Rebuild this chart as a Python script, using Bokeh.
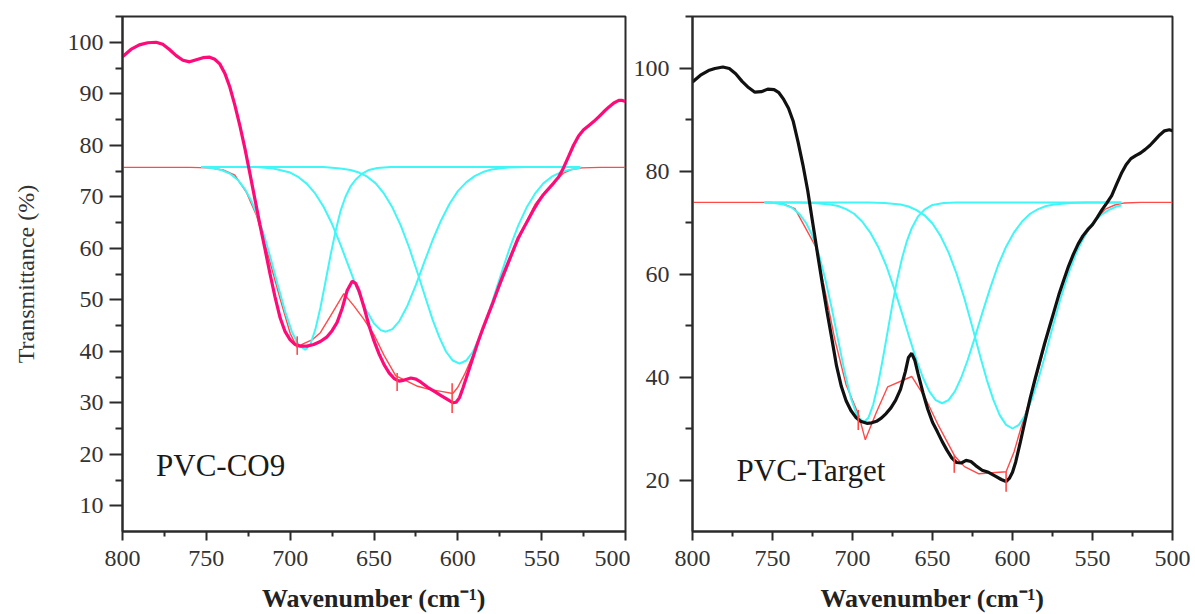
from bokeh.plotting import figure
from bokeh.models import Range1d, Label, FixedTicker
from bokeh.layouts import row
from bokeh.embed import file_html
from bokeh.resources import INLINE

# ---------------- data : PVC-CO9 (left panel) ----------------
co9_x = [800, 795, 790, 785, 780, 776, 772, 768, 764, 760, 756, 752, 748, 745, 742, 739, 736, 733,
         730, 727, 724, 721, 718, 715, 712, 709, 706, 703, 700, 697, 694, 690, 686, 682, 678, 675,
         672, 669, 666, 663, 661, 659, 656, 653, 650, 647, 644, 641, 638, 635, 632, 628, 625, 622,
         618, 614, 610, 606, 603, 601, 599, 597, 594, 591, 588, 585, 582, 579, 576, 573, 570, 567,
         564, 561, 558, 555, 552, 549, 546, 543, 540, 537, 534, 531, 528, 525, 522, 519, 516, 513,
         510, 507, 504, 502, 500]
co9_y = [97.2, 98.6, 99.5, 99.9, 100.0, 99.6, 98.6, 97.4, 96.5, 96.2, 96.6, 97.0, 97.1, 96.7, 95.8,
         94.0, 91.3, 87.8, 83.8, 79.4, 74.5, 69.5, 64.5, 59.8, 55.0, 50.5, 46.5, 43.8, 42.2, 41.3,
         41.0, 41.0, 41.3, 41.9, 42.8, 44.0, 45.6, 48.3, 51.8, 53.6, 53.2, 51.8, 48.6, 45.0, 42.0,
         39.5, 37.4, 35.8, 34.7, 34.2, 34.4, 34.8, 34.6, 34.0, 33.0, 32.2, 31.4, 30.6, 30.0, 30.1,
         31.0, 32.8, 35.8, 38.8, 41.8, 44.5, 47.0, 49.5, 52.2, 54.8, 57.2, 59.6, 62.0, 63.8, 65.6,
         67.4, 69.0, 70.4, 71.5, 72.6, 73.8, 75.6, 77.8, 80.0, 81.8, 83.0, 83.8, 84.6, 85.5, 86.5,
         87.4, 88.2, 88.7, 88.7, 88.5]

co9_fit_x = [800, 760, 748, 740, 733, 726, 720, 713, 706, 700, 696, 692, 687, 682, 676, 668, 662,
             656, 650, 644, 637, 631, 624, 617, 610, 603, 600, 596, 592, 588, 584, 578, 572, 566,
             560, 554, 548, 542, 537, 532, 526, 515, 500]
co9_fit_y = [75.7, 75.7, 75.6, 75.2, 74.2, 70.8, 66.3, 58.5, 50.2, 43.5, 40.8, 41.5, 42.2, 43.6,
             46.8, 51.2, 48.8, 46.2, 43.2, 39.2, 35.2, 34.3, 33.2, 32.6, 32.2, 31.8, 33.0, 35.5,
             38.5, 41.5, 45.0, 50.2, 55.0, 60.0, 64.5, 68.5, 71.0, 73.0, 74.6, 75.3, 75.6, 75.7, 75.7]

co9_p1_x = [753, 746, 741, 736, 731, 727, 723, 719, 715, 711, 707, 703, 699, 695, 691, 688, 685,
            682, 679, 676, 673, 670, 667, 664, 661, 657, 653, 648, 640, 527]
co9_p1_y = [75.8, 75.55, 75.2, 74.5, 73.2, 71.5, 69.1, 65.9, 61.9, 57.3, 52.4, 47.7, 43.8, 41.2,
            40.3, 41.3, 44.2, 48.4, 53.4, 58.5, 63.2, 67.2, 70.0, 72.0, 73.3, 74.5, 75.2, 75.6,
            75.8, 75.8]

co9_p2_x = [753, 720, 710, 700, 695, 690, 685, 680, 675, 670, 665, 660, 655, 650, 646, 643, 639,
            635, 630, 625, 620, 615, 610, 605, 600, 595, 590, 585, 580, 570, 560, 527]
co9_p2_y = [75.8, 75.8, 75.5, 74.7, 73.8, 72.5, 70.6, 68.0, 64.7, 60.7, 56.4, 52.1, 48.2, 45.4,
            44.1, 43.8, 44.3, 45.8, 48.9, 52.9, 57.3, 61.6, 65.4, 68.6, 71.1, 72.8, 74.0, 74.8,
            75.3, 75.7, 75.8, 75.8]

co9_p3_x = [753, 680, 670, 664, 659, 654, 649, 644, 639, 634, 629, 624, 619, 615, 611, 607, 603,
            599, 595, 591, 587, 583, 579, 574, 569, 564, 559, 554, 549, 544, 539, 534, 529, 527]
co9_p3_y = [75.8, 75.8, 75.5, 75.2, 74.7, 73.9, 72.6, 70.6, 67.9, 64.4, 60.1, 55.2, 50.1, 46.1,
            42.7, 39.9, 38.2, 37.6, 38.2, 39.9, 42.7, 46.1, 50.1, 55.2, 60.1, 64.4, 67.9, 70.6,
            72.6, 73.9, 74.7, 75.2, 75.5, 75.6]

co9_err_x = [695.8, 636.2, 603.4]
co9_err_lo = [39.3, 32.3, 28.0]
co9_err_hi = [42.9, 35.8, 33.8]

# ---------------- data : PVC-Target (right panel) ----------------
tgt_x = [800, 795, 790, 786, 781, 777, 773, 769, 765, 761, 757, 753, 749, 746, 743, 740, 737, 734,
         731, 728, 725, 722, 719, 716, 713, 710, 707, 704, 701, 698, 695, 691, 688, 685, 682, 679,
         676, 673, 670, 667, 665, 663, 661, 659, 656, 653, 650, 647, 644, 641, 638, 635, 632, 629,
         626, 623, 619, 615, 611, 607, 604, 602, 600, 598, 595, 592, 589, 586, 583, 580, 577, 574,
         571, 568, 565, 562, 559, 556, 553, 550, 547, 544, 541, 538, 535, 532, 529, 526, 523, 520,
         517, 514, 511, 508, 505, 502, 500]
tgt_y = [97.3, 98.6, 99.5, 99.9, 100.2, 99.9, 98.9, 97.4, 96.2, 95.3, 95.4, 95.9, 95.8, 95.2, 93.9,
         92.2, 89.6, 85.6, 81.2, 76.2, 70.2, 64.2, 58.4, 52.8, 47.6, 42.2, 38.2, 35.4, 33.5, 32.2,
         31.4, 31.0, 31.1, 31.4, 32.0, 32.9, 34.0, 35.5, 37.6, 41.0, 43.8, 44.6, 43.2, 40.6, 37.0,
         33.8, 31.2, 29.4, 27.5, 25.8, 24.3, 23.4, 23.3, 23.8, 23.6, 22.8, 21.9, 21.5, 20.8, 20.1,
         19.7, 20.3, 21.5, 23.5, 27.5, 31.7, 35.8, 39.5, 43.0, 46.4, 49.6, 52.8, 56.0, 58.8, 61.5,
         63.8, 65.8, 67.4, 68.6, 69.6, 71.0, 72.5, 73.8, 75.2, 77.4, 79.5, 81.2, 82.4, 83.0, 83.5,
         84.2, 85.0, 86.0, 87.0, 87.8, 88.0, 87.8]

tgt_fit_x = [800, 752, 744, 736, 723, 717, 711, 704, 696, 692, 685, 678, 663, 655, 646, 636, 630,
             621, 604, 599, 595, 591, 587, 583, 578, 572, 566, 560, 554, 548, 542, 536, 530, 520, 500]
tgt_fit_y = [73.9, 73.9, 73.7, 72.7, 65.3, 56.5, 47.2, 38.5, 32.5, 27.8, 33.2, 38.1, 40.1, 36.2,
             30.4, 24.6, 22.6, 21.2, 21.6, 25.5, 29.8, 33.8, 37.8, 42.2, 48.5, 55.0, 60.5, 64.6,
             67.8, 70.5, 72.6, 73.4, 73.8, 73.9, 73.9]

tgt_p1_x = [755, 749, 743, 738, 733, 729, 725, 721, 717, 713, 709, 705, 701, 697, 693, 690, 687,
            684, 681, 678, 675, 672, 669, 666, 663, 659, 655, 650, 643, 635, 532]
tgt_p1_y = [73.9, 73.8, 73.5, 72.9, 71.6, 69.9, 67.4, 63.8, 59.0, 53.4, 47.2, 41.1, 35.9, 32.4,
            31.2, 32.1, 34.7, 38.7, 43.6, 48.9, 54.2, 59.0, 63.1, 66.4, 68.9, 71.2, 72.5, 73.4,
            73.8, 73.9, 73.9]

tgt_p2_x = [755, 734, 724, 714, 709, 704, 699, 694, 689, 684, 679, 674, 669, 664, 660, 656, 652,
            648, 644, 640, 636, 632, 628, 624, 619, 614, 609, 604, 599, 594, 589, 584, 579, 574,
            564, 554, 532]
tgt_p2_y = [73.9, 73.9, 73.8, 73.5, 73.2, 72.6, 71.7, 70.2, 68.1, 65.3, 61.7, 57.2, 52.3, 47.2,
            43.3, 39.9, 37.2, 35.5, 34.9, 35.5, 37.2, 39.9, 43.3, 47.2, 52.3, 57.2, 61.7, 65.3,
            68.1, 70.2, 71.7, 72.6, 73.2, 73.5, 73.8, 73.9, 73.9]

tgt_p3_x = [755, 690, 680, 670, 665, 660, 655, 650, 645, 640, 635, 630, 625, 620, 616, 612, 608,
            604, 600, 596, 592, 588, 584, 580, 575, 570, 565, 560, 555, 550, 545, 540, 535, 532]
tgt_p3_y = [73.9, 73.9, 73.8, 73.5, 73.1, 72.4, 71.4, 69.8, 67.4, 64.2, 60.1, 55.2, 49.6, 43.8,
            39.4, 35.6, 32.6, 30.7, 30.0, 30.7, 32.6, 35.6, 39.4, 43.8, 49.6, 55.2, 60.1, 64.2,
            67.4, 69.8, 71.4, 72.4, 73.1, 73.3]

tgt_err_x = [696.4, 636.4, 604.0]
tgt_err_lo = [29.7, 21.4, 17.7]
tgt_err_hi = [33.6, 24.8, 21.6]

x_ticks = [800, 750, 700, 650, 600, 550, 500]
co9_y_ticks = [10, 20, 30, 40, 50, 60, 70, 80, 90, 100]
tgt_y_ticks = [20, 40, 60, 80, 100]

# ---------------- styling ----------------
SERIF = "Liberation Serif"
AX = "#2b2b2b"
PINK = "#ff0a78"
CYAN = "#40f6f6"
RED = "#ff4a4a"


def make_fig(y0, y1, yticks, yminor, min_left, min_right, fw):
    p = figure(frame_width=fw, frame_height=515,
               x_range=Range1d(800, 500), y_range=Range1d(y0, y1),
               output_backend="svg", toolbar_location=None,
               min_border_left=min_left, min_border_right=min_right,
               min_border_top=16, min_border_bottom=83)
    p.background_fill_color = "white"
    p.border_fill_color = "white"
    p.grid.visible = False
    p.outline_line_color = AX
    p.outline_line_width = 2
    p.outline_line_alpha = 1

    p.xaxis.ticker = FixedTicker(ticks=x_ticks, minor_ticks=[775, 725, 675, 625, 575, 525])
    p.yaxis.ticker = FixedTicker(ticks=yticks, minor_ticks=yminor)
    for ax in (p.xaxis[0], p.yaxis[0]):
        ax.axis_line_color = AX
        ax.axis_line_width = 2
        ax.major_tick_line_color = AX
        ax.major_tick_line_width = 2
        ax.minor_tick_line_color = AX
        ax.minor_tick_line_width = 2
        ax.major_tick_in = 0
        ax.minor_tick_in = 0
        ax.major_label_text_font = SERIF
        ax.major_label_text_font_size = "24px"
        ax.major_label_text_color = "#333333"
    p.xaxis.major_tick_out = 9
    p.xaxis.minor_tick_out = 5
    p.xaxis.major_label_standoff = 10
    p.yaxis.major_tick_out = 13
    p.yaxis.minor_tick_out = 7

    p.xaxis.axis_label = "Wavenumber (cm⁻¹)"
    p.xaxis.axis_label_text_font = SERIF
    p.xaxis.axis_label_text_font_style = "bold"
    p.xaxis.axis_label_text_font_size = "26px"
    p.xaxis.axis_label_text_color = "#222222"
    p.xaxis.axis_label_standoff = 15
    return p


# left panel
p1 = make_fig(5, 105, co9_y_ticks, [15, 25, 35, 45, 55, 65, 75, 85, 95, 105], 122, 5, 503)
p1.yaxis.major_label_standoff = 6
p1.yaxis.axis_label = "Transmittance (%)"
p1.yaxis.axis_label_text_font = SERIF
p1.yaxis.axis_label_text_font_style = "normal"
p1.yaxis.axis_label_text_font_size = "24px"
p1.yaxis.axis_label_text_color = "#333333"
p1.yaxis.axis_label_standoff = 26

p1.line(co9_fit_x, co9_fit_y, line_color=RED, line_width=1.4)
p1.line(co9_p1_x, co9_p1_y, line_color=CYAN, line_width=2)
p1.line(co9_p2_x, co9_p2_y, line_color=CYAN, line_width=2)
p1.line(co9_p3_x, co9_p3_y, line_color=CYAN, line_width=2)
p1.line(co9_x, co9_y, line_color=PINK, line_width=3.2)
p1.segment(x0=co9_err_x, y0=co9_err_lo, x1=co9_err_x, y1=co9_err_hi,
           line_color=RED, line_width=1.6)
p1.add_layout(Label(x=780, y=14.5, text="PVC-CO9", text_font=SERIF,
                    text_font_size="31px", text_color="#1a1a1a"))

# right panel
p2 = make_fig(10, 110, tgt_y_ticks, [30, 50, 70, 90, 110], 61, 24, 480)
p2.yaxis.major_label_standoff = 10

p2.line(tgt_fit_x, tgt_fit_y, line_color=RED, line_width=1.4)
p2.line(tgt_p1_x, tgt_p1_y, line_color=CYAN, line_width=2)
p2.line(tgt_p2_x, tgt_p2_y, line_color=CYAN, line_width=2)
p2.line(tgt_p3_x, tgt_p3_y, line_color=CYAN, line_width=2)
p2.line(tgt_x, tgt_y, line_color="#111111", line_width=3.2)
p2.segment(x0=tgt_err_x, y0=tgt_err_lo, x1=tgt_err_x, y1=tgt_err_hi,
           line_color=RED, line_width=1.6)
p2.add_layout(Label(x=772.5, y=18.4, text="PVC-Target", text_font=SERIF,
                    text_font_size="31px", text_color="#1a1a1a"))

layout = row(p1, p2)
open("out.html", "w").write(file_html(layout, INLINE))
